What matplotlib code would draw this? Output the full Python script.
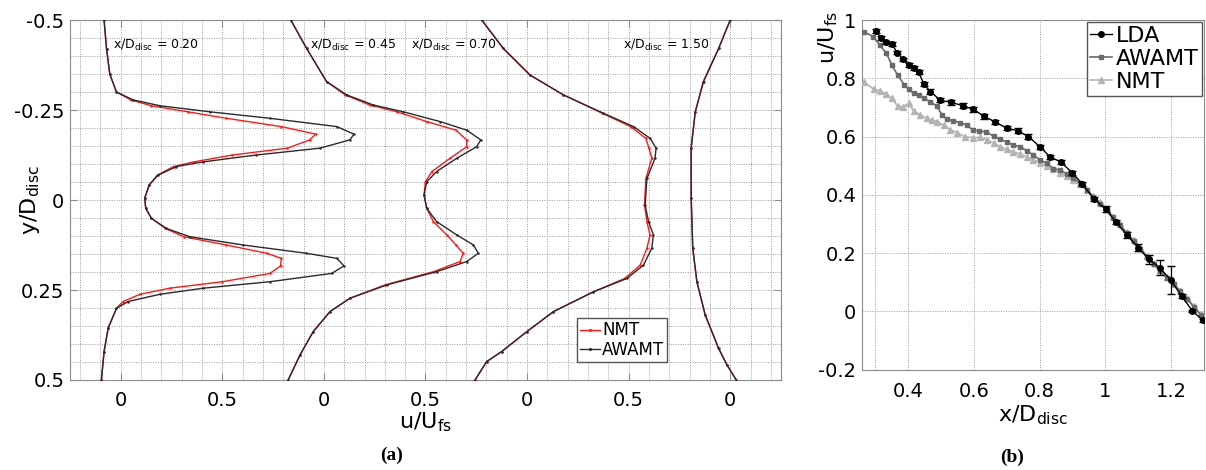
import numpy as np
import matplotlib.pyplot as plt
from matplotlib.ticker import MultipleLocator

# ---- panel (a): wake profiles, u/U_fs vs y/D_disc at four stations ----
stations = ["0.20", "0.45", "0.70", "1.50"]
offsets = [0, 1, 2, 3]
label_x = [-0.04, 0.93, 1.43, 2.47]

y_020 = [-0.5, -0.42, -0.35, -0.30, -0.278, -0.262, -0.245, -0.227, -0.204, -0.183,
         -0.167, -0.144, -0.125, -0.106, -0.093, -0.069, -0.042, -0.005, 0.023, 0.051,
         0.079, 0.102, 0.125, 0.148, 0.162, 0.183, 0.204, 0.227, 0.245, 0.262,
         0.282, 0.301, 0.356, 0.421, 0.5]
awamt_020 = [-0.082, -0.070, -0.054, -0.021, 0.061, 0.192, 0.438, 0.734, 1.063, 1.148,
             1.128, 0.980, 0.668, 0.406, 0.274, 0.184, 0.140, 0.118, 0.123, 0.151,
             0.225, 0.340, 0.603, 0.914, 1.063, 1.099, 1.038, 0.734, 0.406, 0.192,
             0.036, -0.021, -0.062, -0.082, -0.095]
nmt_020 = [-0.082, -0.070, -0.054, -0.021, 0.05, 0.15, 0.33, 0.52, 0.79, 0.96,
           0.93, 0.82, 0.55, 0.36, 0.26, 0.18, 0.14, 0.118, 0.123, 0.151,
           0.22, 0.31, 0.52, 0.72, 0.79, 0.787, 0.734, 0.50, 0.241, 0.094,
           0.011, -0.021, -0.062, -0.082, -0.095]

y_045 = [-0.5, -0.421, -0.329, -0.292, -0.264, -0.245, -0.218, -0.194, -0.167, -0.148,
         -0.116, -0.079, -0.051, -0.014, 0.023, 0.060, 0.097, 0.125, 0.148, 0.171,
         0.199, 0.236, 0.273, 0.310, 0.366, 0.431, 0.5]
awamt_045 = [-0.163, -0.085, 0.013, 0.112, 0.243, 0.391, 0.571, 0.703, 0.772, 0.752,
             0.654, 0.555, 0.506, 0.493, 0.506, 0.555, 0.654, 0.736, 0.760, 0.703,
             0.555, 0.309, 0.128, 0.030, -0.053, -0.118, -0.176]
nmt_045 = [-0.163, -0.085, 0.013, 0.105, 0.225, 0.36, 0.506, 0.65, 0.703, 0.703,
           0.621, 0.531, 0.50, 0.493, 0.506, 0.539, 0.605, 0.65, 0.686, 0.670,
           0.54, 0.30, 0.128, 0.030, -0.053, -0.118, -0.176]

y_070 = [-0.5, -0.421, -0.347, -0.292, -0.241, -0.204, -0.171, -0.144, -0.116, -0.060,
         0.014, 0.060, 0.097, 0.134, 0.181, 0.218, 0.255, 0.310, 0.366, 0.421,
         0.449, 0.5]
awamt_070 = [-0.223, -0.117, 0.015, 0.179, 0.376, 0.524, 0.606, 0.635, 0.630, 0.590,
             0.581, 0.598, 0.622, 0.614, 0.573, 0.491, 0.327, 0.130, -0.002, -0.125,
             -0.199, -0.256]
nmt_070 = [-0.223, -0.117, 0.015, 0.179, 0.37, 0.51, 0.585, 0.60, 0.614, 0.585,
           0.578, 0.59, 0.605, 0.59, 0.557, 0.48, 0.327, 0.13, -0.002, -0.125,
           -0.199, -0.256]

y_150 = [-0.5, -0.421, -0.329, -0.245, -0.144, -0.005, 0.134, 0.227, 0.319, 0.412, 0.458, 0.5]
awamt_150 = [0.0, -0.057, -0.131, -0.172, -0.192, -0.192, -0.184, -0.164, -0.123, -0.057, -0.016, 0.030]
nmt_150 = [0.0, -0.057, -0.133, -0.172, -0.193, -0.192, -0.185, -0.164, -0.124, -0.058, -0.016, 0.030]

profiles_y = [y_020, y_045, y_070, y_150]
profiles_awamt = [awamt_020, awamt_045, awamt_070, awamt_150]
profiles_nmt = [nmt_020, nmt_045, nmt_070, nmt_150]

# ---- panel (b): centreline velocity vs x/D_disc ----
lda_x = [0.301, 0.318, 0.334, 0.351, 0.367, 0.385, 0.402, 0.417, 0.432, 0.449,
         0.468, 0.498, 0.531, 0.567, 0.599, 0.632, 0.665, 0.700, 0.733, 0.766,
         0.802, 0.832, 0.864, 0.900, 0.930, 0.966, 1.001, 1.032, 1.066, 1.100,
         1.132, 1.166, 1.199, 1.232, 1.265, 1.297]
lda_u = [0.963, 0.939, 0.923, 0.917, 0.888, 0.865, 0.847, 0.836, 0.820, 0.779,
         0.754, 0.725, 0.717, 0.706, 0.693, 0.669, 0.650, 0.629, 0.620, 0.600,
         0.564, 0.530, 0.513, 0.475, 0.437, 0.385, 0.350, 0.307, 0.261, 0.218,
         0.179, 0.149, 0.107, 0.052, 0.001, -0.031]
lda_err = [0.006, 0.006, 0.006, 0.006, 0.006, 0.006, 0.007, 0.007, 0.007, 0.007,
           0.008, 0.008, 0.008, 0.008, 0.008, 0.008, 0.008, 0.008, 0.008, 0.008,
           0.008, 0.008, 0.008, 0.008, 0.008, 0.008, 0.010, 0.008, 0.010, 0.012,
           0.015, 0.026, 0.048, 0.006, 0.005, 0.005]

awamt_x = [0.265, 0.294, 0.314, 0.334, 0.351, 0.368, 0.389, 0.402, 0.417, 0.432,
           0.449, 0.468, 0.488, 0.503, 0.518, 0.538, 0.559, 0.579, 0.597, 0.617,
           0.638, 0.660, 0.680, 0.700, 0.720, 0.741, 0.761, 0.781, 0.802, 0.822,
           0.842, 0.862, 0.883, 0.903, 0.923, 0.943, 0.963, 0.984, 1.004, 1.024,
           1.045, 1.065, 1.086, 1.106, 1.126, 1.147, 1.167, 1.187, 1.208, 1.228,
           1.249, 1.269, 1.290]
awamt_u = [0.960, 0.943, 0.914, 0.886, 0.845, 0.811, 0.777, 0.762, 0.748, 0.742,
           0.731, 0.719, 0.704, 0.674, 0.659, 0.654, 0.647, 0.639, 0.622, 0.619,
           0.616, 0.601, 0.590, 0.582, 0.570, 0.565, 0.551, 0.536, 0.519, 0.508,
           0.490, 0.485, 0.471, 0.456, 0.441, 0.416, 0.393, 0.370, 0.350, 0.322,
           0.295, 0.268, 0.242, 0.215, 0.188, 0.162, 0.138, 0.115, 0.092, 0.068,
           0.042, 0.015, -0.012]

nmt_x = [0.265, 0.296, 0.316, 0.334, 0.351, 0.368, 0.385, 0.402, 0.417, 0.437,
         0.458, 0.473, 0.488, 0.508, 0.528, 0.549, 0.574, 0.599, 0.619, 0.640,
         0.660, 0.680, 0.700, 0.720, 0.741, 0.761, 0.781, 0.802, 0.822, 0.842,
         0.862, 0.883, 0.903, 0.923, 0.943, 0.963, 0.984, 1.004, 1.024, 1.045,
         1.065, 1.086, 1.106, 1.126, 1.147, 1.167, 1.187, 1.208, 1.228, 1.249,
         1.269, 1.290]
nmt_u = [0.788, 0.762, 0.757, 0.745, 0.731, 0.704, 0.702, 0.714, 0.688, 0.674,
         0.662, 0.656, 0.651, 0.639, 0.624, 0.613, 0.599, 0.596, 0.597, 0.588,
         0.578, 0.565, 0.556, 0.547, 0.540, 0.530, 0.521, 0.510, 0.498, 0.487,
         0.475, 0.464, 0.450, 0.436, 0.418, 0.396, 0.374, 0.352, 0.325,
         0.298, 0.271, 0.245, 0.218, 0.191, 0.165, 0.141, 0.118, 0.095, 0.071,
         0.045, 0.018, -0.010]

plt.rcParams['mathtext.fontset'] = 'dejavusans'
grid_kw = dict(color='#9a9a9a', linestyle=(0, (1, 1.5)), linewidth=0.7)
spine_col = '#8c8c8c'

fig = plt.figure(figsize=(12.06, 4.70), dpi=100)

# panel (a)
ax = fig.add_axes([0.0580, 0.1915, 0.5896, 0.7659])
for off, yy, ua, un in zip(offsets, profiles_y, profiles_awamt, profiles_nmt):
    ax.plot(np.array(un) + off, yy, color='#ff1a1a', lw=1.0, marker='.', ms=1.5, zorder=3)
    ax.plot(np.array(ua) + off, yy, color='#2a2a2a', lw=1.0, marker='.', ms=1.5, zorder=4)
ax.plot([], [], color='#ff1a1a', lw=1.0, marker='.', ms=2.5, label='NMT')
ax.plot([], [], color='#2a2a2a', lw=1.0, marker='.', ms=2.5, label='AWAMT')

for lx, st in zip(label_x, stations):
    ax.text(lx, -0.43, r'x/D$_{\mathrm{disc}}$ = ' + st, fontsize=9, va='center', ha='left')

ax.set_xlim(-0.25, 3.25)
ax.set_ylim(0.5, -0.5)
xt = []
xtl = []
for off in offsets:
    xt += [off, off + 0.5]
    xtl += ['0', '0.5']
xt, xtl = xt[:-1], xtl[:-1]
ax.set_xticks(xt)
ax.set_xticklabels(xtl)
ax.set_yticks([-0.5, -0.25, 0, 0.25, 0.5])
ax.set_yticklabels(['-0.5', '-0.25', '0', '0.25', '0.5'])
ax.xaxis.set_minor_locator(MultipleLocator(0.1))
ax.yaxis.set_minor_locator(MultipleLocator(0.05))
ax.grid(which='both', **grid_kw)
ax.tick_params(which='major', direction='in', length=5, width=0.8, color=spine_col,
               labelsize=14, top=True, right=True, pad=4)
ax.tick_params(axis='x', which='major', pad=8)
ax.tick_params(which='minor', length=0)
for s in ax.spines.values():
    s.set_color(spine_col)
ax.set_xlabel(r'u/U$_{\mathrm{fs}}$', fontsize=16, labelpad=0)
ax.set_ylabel(r'y/D$_{\mathrm{disc}}$', fontsize=16)
ax.yaxis.set_label_coords(-0.040, 0.5)
ax.legend(loc='upper left', bbox_to_anchor=(577 / 1206, 1 - 318 / 470),
          bbox_transform=fig.transFigure, fontsize=12, frameon=True, fancybox=False,
          edgecolor='#555555', framealpha=1, borderpad=0.2, labelspacing=0.1,
          handlelength=1.2, handletextpad=0.1, borderaxespad=0)

# panel (b)
bx = fig.add_axes([0.7148, 0.2138, 0.2835, 0.7436])
h_nmt, = bx.plot(nmt_x, nmt_u, color='#b4b4b4', lw=1.2, marker='^', ms=4, zorder=3)
h_awamt, = bx.plot(awamt_x, awamt_u, color='#6a6a6a', lw=1.2, marker='s', ms=3.5, zorder=4)
bx.errorbar(lda_x, lda_u, yerr=lda_err, fmt='none', ecolor='black', capsize=3,
            elinewidth=0.9, zorder=5)
h_lda, = bx.plot(lda_x, lda_u, color='black', lw=1.0, marker='o', ms=4, zorder=6)
bx.set_xlim(0.26, 1.3)
bx.set_ylim(-0.2, 1.0)
bx.set_xticks([0.4, 0.6, 0.8, 1.0, 1.2])
bx.set_xticklabels(['0.4', '0.6', '0.8', '1', '1.2'])
bx.set_xticks([0.3, 1.3], minor=True)
bx.set_yticks([-0.2, 0, 0.2, 0.4, 0.6, 0.8, 1.0])
bx.set_yticklabels(['-0.2', '0', '0.2', '0.4', '0.6', '0.8', '1'])
bx.grid(which='both', **grid_kw)
bx.tick_params(which='both', direction='in', length=0, labelsize=14, pad=4)
bx.tick_params(axis='x', pad=9)
for s in bx.spines.values():
    s.set_color(spine_col)
bx.set_xlabel(r'x/D$_{\mathrm{disc}}$', fontsize=16, labelpad=2)
bx.set_ylabel(r'u/U$_{\mathrm{fs}}$', fontsize=16)
bx.yaxis.set_label_coords(-0.065, 0.95)
bx.legend([h_lda, h_awamt, h_nmt], ['LDA', 'AWAMT', 'NMT'], loc='upper right', fontsize=16,
          frameon=True, fancybox=False, edgecolor='#555555', framealpha=1,
          borderpad=0.15, labelspacing=0.15, handlelength=1.0, handletextpad=0.15,
          borderaxespad=0.1)

fig.text(392 / 1206, 1 - 455 / 470, '(a)', family='Liberation Serif', weight='bold',
         fontsize=14, ha='center', va='center')
fig.text(1012 / 1206, 1 - 457 / 470, '(b)', family='Liberation Serif', weight='bold',
         fontsize=14, ha='center', va='center')

fig.savefig('out.png', dpi=100)
